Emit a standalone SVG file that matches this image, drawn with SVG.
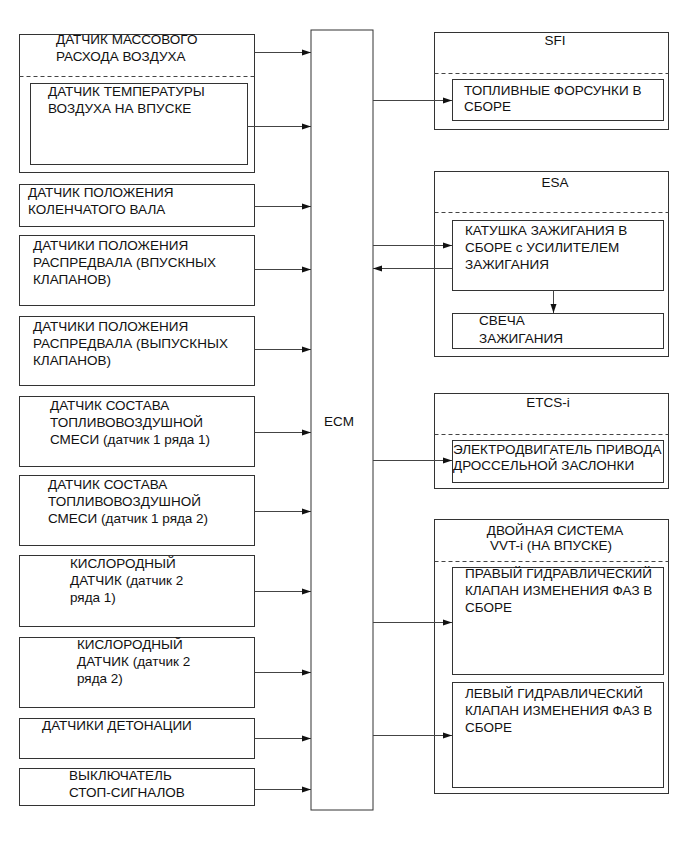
<svg xmlns="http://www.w3.org/2000/svg" width="691" height="854" viewBox="0 0 691 854">
<style>
.box{fill:none;stroke:#333;stroke-width:1}
.dash{fill:none;stroke:#444;stroke-width:1;stroke-dasharray:4 3}
.t{font-family:"Liberation Sans",Arial,sans-serif;font-size:13.5px;fill:#111}
.c{text-anchor:middle}
.ln{stroke:#444;stroke-width:1;fill:none;marker-end:url(#ah)}
</style>
<defs>
<marker id="ah" markerUnits="userSpaceOnUse" markerWidth="9" markerHeight="7" refX="9" refY="3.5" orient="auto">
<path d="M0,0.5 L9,3.5 L0,6.5 z" fill="#111"/>
</marker>
</defs>
<rect width="691" height="854" fill="#fff"/>

<g id="ecm">
<rect class="box" x="311" y="30" width="62" height="780"/>
<text class="t c" x="339" y="426">ECM</text>
</g>

<g id="maf">
<rect class="box" x="19.5" y="34.5" width="235" height="138"/>
<line class="dash" x1="19.5" y1="76.5" x2="254.5" y2="76.5"/>
<text class="t" x="56" y="44">ДАТЧИК МАССОВОГО</text>
<text class="t" x="56" y="61">РАСХОДА ВОЗДУХА</text>
</g>
<g id="iat">
<rect class="box" x="30.5" y="83.5" width="217" height="81"/>
<text class="t" x="48" y="96">ДАТЧИК ТЕМПЕРАТУРЫ</text>
<text class="t" x="48" y="113">ВОЗДУХА НА ВПУСКЕ</text>
</g>
<g id="crank">
<rect class="box" x="19.5" y="184.5" width="235" height="42"/>
<text class="t" x="28" y="197">ДАТЧИК ПОЛОЖЕНИЯ</text>
<text class="t" x="28" y="214">КОЛЕНЧАТОГО ВАЛА</text>
</g>
<g id="cam-in">
<rect class="box" x="19.5" y="235.5" width="235" height="70"/>
<text class="t" x="33" y="250">ДАТЧИКИ ПОЛОЖЕНИЯ</text>
<text class="t" x="33" y="267">РАСПРЕДВАЛА (ВПУСКНЫХ</text>
<text class="t" x="33" y="284">КЛАПАНОВ)</text>
</g>
<g id="cam-ex">
<rect class="box" x="19.5" y="316.5" width="235" height="69"/>
<text class="t" x="33" y="331">ДАТЧИКИ ПОЛОЖЕНИЯ</text>
<text class="t" x="33" y="348">РАСПРЕДВАЛА (ВЫПУСКНЫХ</text>
<text class="t" x="33" y="365">КЛАПАНОВ)</text>
</g>
<g id="afs1">
<rect class="box" x="19.5" y="396.5" width="235" height="70"/>
<text class="t" x="50" y="410">ДАТЧИК СОСТАВА</text>
<text class="t" x="50" y="427">ТОПЛИВОВОЗДУШНОЙ</text>
<text class="t" x="50" y="444">СМЕСИ (датчик 1 ряда 1)</text>
</g>
<g id="afs2">
<rect class="box" x="19.5" y="475.5" width="235" height="70"/>
<text class="t" x="48" y="489">ДАТЧИК СОСТАВА</text>
<text class="t" x="48" y="506">ТОПЛИВОВОЗДУШНОЙ</text>
<text class="t" x="48" y="523">СМЕСИ (датчик 1 ряда 2)</text>
</g>
<g id="o2-1">
<rect class="box" x="19.5" y="555.5" width="235" height="71"/>
<text class="t" x="70" y="568">КИСЛОРОДНЫЙ</text>
<text class="t" x="70" y="585">ДАТЧИК (датчик 2</text>
<text class="t" x="70" y="602">ряда 1)</text>
</g>
<g id="o2-2">
<rect class="box" x="19.5" y="637.5" width="235" height="70"/>
<text class="t" x="77" y="649">КИСЛОРОДНЫЙ</text>
<text class="t" x="77" y="666">ДАТЧИК (датчик 2</text>
<text class="t" x="77" y="683">ряда 2)</text>
</g>
<g id="knock">
<rect class="box" x="19.5" y="718.5" width="235" height="40"/>
<text class="t" x="42" y="730">ДАТЧИКИ ДЕТОНАЦИИ</text>
</g>
<g id="stop">
<rect class="box" x="19.5" y="768.5" width="235" height="37"/>
<text class="t" x="69" y="780">ВЫКЛЮЧАТЕЛЬ</text>
<text class="t" x="69" y="797">СТОП-СИГНАЛОВ</text>
</g>

<g id="sfi">
<rect class="box" x="434.5" y="32.5" width="234" height="97"/>
<line class="dash" x1="434.5" y1="73.5" x2="668.5" y2="73.5"/>
<text class="t c" x="555" y="45">SFI</text>
</g>
<g id="injectors">
<rect class="box" x="452.5" y="79.5" width="211" height="41"/>
<text class="t" x="464" y="95">ТОПЛИВНЫЕ ФОРСУНКИ В</text>
<text class="t" x="464" y="111">СБОРЕ</text>
</g>
<g id="esa">
<rect class="box" x="434.5" y="171.5" width="234" height="185"/>
<line class="dash" x1="434.5" y1="212.5" x2="668.5" y2="212.5"/>
<text class="t c" x="555" y="187">ESA</text>
</g>
<g id="coil">
<rect class="box" x="452.5" y="220.5" width="211" height="70"/>
<text class="t" x="465" y="235">КАТУШКА ЗАЖИГАНИЯ В</text>
<text class="t" x="465" y="252">СБОРЕ с УСИЛИТЕЛЕМ</text>
<text class="t" x="465" y="269">ЗАЖИГАНИЯ</text>
</g>
<g id="plug">
<rect class="box" x="452.5" y="313.5" width="211" height="35"/>
<text class="t" x="479" y="325">СВЕЧА</text>
<text class="t" x="479" y="343">ЗАЖИГАНИЯ</text>
</g>
<g id="etcs">
<rect class="box" x="434.5" y="393.5" width="234" height="95"/>
<line class="dash" x1="434.5" y1="434.5" x2="668.5" y2="434.5"/>
<text class="t c" x="548" y="407">ETCS-i</text>
</g>
<g id="throttle">
<rect class="box" x="452.5" y="440.5" width="211" height="42"/>
<text class="t" x="453" y="454">ЭЛЕКТРОДВИГАТЕЛЬ ПРИВОДА</text>
<text class="t" x="453" y="470">ДРОССЕЛЬНОЙ ЗАСЛОНКИ</text>
</g>
<g id="vvt">
<rect class="box" x="434.5" y="519.5" width="234" height="274"/>
<line class="dash" x1="434.5" y1="561.5" x2="668.5" y2="561.5"/>
<text class="t c" x="555" y="535">ДВОЙНАЯ СИСТЕМА</text>
<text class="t c" x="551" y="550">VVT-i (НА ВПУСКЕ)</text>
</g>
<g id="ocv-r">
<rect class="box" x="452.5" y="567.5" width="211" height="107"/>
<text class="t" x="465" y="578">ПРАВЫЙ ГИДРАВЛИЧЕСКИЙ</text>
<text class="t" x="465" y="595">КЛАПАН ИЗМЕНЕНИЯ ФАЗ В</text>
<text class="t" x="465" y="612">СБОРЕ</text>
</g>
<g id="ocv-l">
<rect class="box" x="452.5" y="682.5" width="211" height="105"/>
<text class="t" x="465" y="698">ЛЕВЫЙ ГИДРАВЛИЧЕСКИЙ</text>
<text class="t" x="465" y="715">КЛАПАН ИЗМЕНЕНИЯ ФАЗ В</text>
<text class="t" x="465" y="732">СБОРЕ</text>
</g>

<g id="connectors">
<line class="ln" x1="254.5" y1="52.5" x2="311" y2="52.5"/>
<line class="ln" x1="247.5" y1="126.5" x2="311" y2="126.5"/>
<line class="ln" x1="254.5" y1="206.5" x2="311" y2="206.5"/>
<line class="ln" x1="254.5" y1="269.5" x2="311" y2="269.5"/>
<line class="ln" x1="254.5" y1="349.5" x2="311" y2="349.5"/>
<line class="ln" x1="254.5" y1="432.5" x2="311" y2="432.5"/>
<line class="ln" x1="254.5" y1="511.5" x2="311" y2="511.5"/>
<line class="ln" x1="254.5" y1="591.5" x2="311" y2="591.5"/>
<line class="ln" x1="254.5" y1="672.5" x2="311" y2="672.5"/>
<line class="ln" x1="254.5" y1="738.5" x2="311" y2="738.5"/>
<line class="ln" x1="254.5" y1="789.5" x2="311" y2="789.5"/>
<line class="ln" x1="373" y1="100.5" x2="452" y2="100.5"/>
<line class="ln" x1="373" y1="245.5" x2="452" y2="245.5"/>
<line class="ln" x1="452" y1="268.5" x2="373" y2="268.5"/>
<line class="ln" x1="553.5" y1="290.5" x2="553.5" y2="313"/>
<line class="ln" x1="373" y1="460.5" x2="452" y2="460.5"/>
<line class="ln" x1="373" y1="622.5" x2="452" y2="622.5"/>
<line class="ln" x1="373" y1="735.5" x2="452" y2="735.5"/>
</g>
</svg>
